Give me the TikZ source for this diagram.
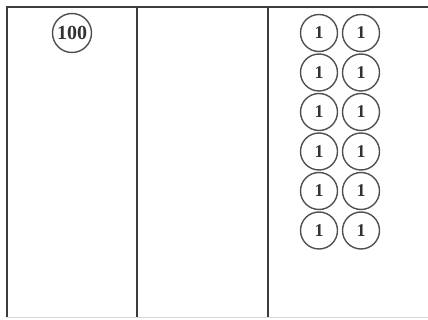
\documentclass[tikz,border=0pt]{standalone}
\usepackage{fontspec}
\setmainfont{Liberation Serif}
\usepackage{tikz}
\definecolor{cline}{RGB}{60,60,60}
\definecolor{ccoin}{RGB}{80,80,80}
\tikzset{
  coin/.style={draw=ccoin, line width=1.4pt, circle, minimum size=37pt, inner sep=0pt,
               font=\fontsize{18}{18}\selectfont\bfseries, text=black!80},
  bigcoin/.style={coin, minimum size=39pt, font=\fontsize{20}{20}\selectfont\bfseries}
}

\begin{document}
\begin{tikzpicture}[x=1pt, y=-1pt]
    \useasboundingbox (0,0) rectangle (428,320);
    % place value columns
    \draw[cline, line width=1.8pt] (7,317) -- (7,7) -- (428,7);
    \draw[cline, line width=1.8pt] (137,7) -- (137,317);
    \draw[cline, line width=1.8pt] (268,7) -- (268,317);
    \draw[black!15, line width=1pt] (7,317) -- (428,317);
    % hundreds
    \node[bigcoin] (hundred) at (72,33) {100};
    % ones
    \foreach \r in {0,...,5} {
      \node[coin] (one-\r-a) at (319,33+39.5*\r) {1};
      \node[coin] (one-\r-b) at (361,33+39.5*\r) {1};
    }
  \end{tikzpicture}
\end{document}
